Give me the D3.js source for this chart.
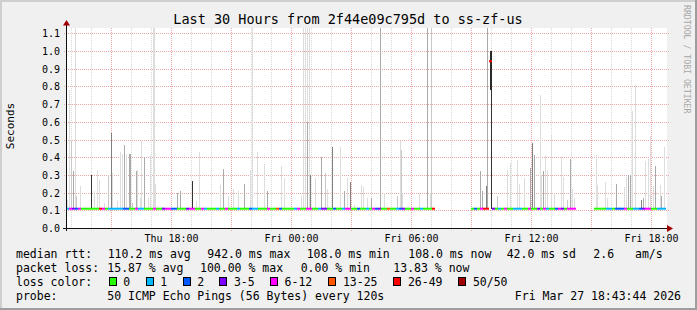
<!DOCTYPE html>
<html>
<head>
<meta charset="utf-8">
<script src="https://cdn.jsdelivr.net/npm/d3@7"></script>
<style>
  body { margin: 0; background: #f0f0f0; }
  svg text { font-family: "DejaVu Sans Mono", monospace; fill: #000; }
</style>
</head>
<body>
<script>
// graph window: last 30 hours up to the time stamp in the footer
const windowEnd = new Date(2026, 2, 27, 18, 43, 44);
const windowStart = new Date(windowEnd.getTime() - 30 * 3600 * 1000);

const yTicks = [0.0, 0.1, 0.2, 0.3, 0.4, 0.5, 0.6, 0.7, 0.8, 0.9, 1.0, 1.1];

// smoke: minutes after window start, top of the ping spread (s), shade 0 (light) .. 4 (dark)
const smokeMin = [5, 10, 16, 23, 28, 32, 42, 77, 84, 93, 99, 114, 127, 136, 139, 153, 164, 168, 175, 182,
  189, 194, 199, 210, 214, 222, 227, 234, 248, 252, 262, 265, 267, 288, 335, 342, 378, 392, 400, 462,
  472, 487, 502, 516, 534, 552, 559, 575, 594, 603, 647, 655, 707, 712, 719, 723, 729, 725, 732, 747,
  767, 779, 784, 799, 822, 835, 844, 852, 864, 887, 891, 904, 916, 943, 954, 995, 1003, 1005, 1009, 1060,
  1084, 1092, 1097, 1244, 1249, 1260, 1265, 1275, 1288, 1295, 1324, 1332, 1354, 1360, 1374, 1392, 1400, 1407, 1422, 1427,
  1432, 1439, 1444, 1457, 1465, 1487, 1492, 1504, 1512, 1520, 1525, 1590, 1594, 1619, 1624, 1650, 1660, 1674, 1680, 1687,
  1692, 1698, 1710, 1727, 1732, 1739, 1747, 1752, 1762, 1767, 1782, 1787, 1795];
const smokeTop = [0.16, 0.78, 0.49, 0.32, 1.2, 0.18, 0.235, 0.30, 0.21, 0.33, 0.27, 0.14, 0.30, 0.535, 0.31, 0.15, 0.43, 0.42, 0.47, 0.42,
  0.42, 0.42, 0.14, 0.32, 0.33, 0.17, 0.49, 0.40, 0.17, 0.41, 1.2, 1.2, 0.25, 0.12, 0.20, 0.21, 0.265, 0.15, 0.43, 0.245,
  0.335, 0.18, 0.22, 0.21, 0.25, 0.33, 1.2, 0.43, 0.36, 0.21, 0.35, 0.28, 0.18, 1.2, 1.2, 1.2, 1.2, 0.60, 0.30, 0.28,
  0.40, 0.31, 0.22, 0.46, 0.46, 0.21, 0.28, 0.26, 0.13, 0.245, 0.23, 0.17, 0.17, 1.2, 0.20, 0.18, 0.49, 0.44, 0.20, 0.20,
  1.2, 0.20, 1.2, 0.32, 0.21, 0.24, 1.2, 1.0, 0.12, 0.18, 0.33, 0.37, 0.385, 0.25, 0.28, 0.34, 0.48, 0.41, 0.75, 0.30,
  0.32, 0.41, 0.33, 0.53, 0.20, 0.40, 0.29, 0.16, 0.39, 0.22, 0.17, 0.41, 0.245, 0.26, 0.17, 0.25, 0.12, 0.23, 0.29, 0.30,
  0.30, 0.66, 0.81, 0.16, 0.17, 0.38, 0.39, 0.52, 0.24, 0.35, 0.245, 0.18, 0.46];
const smokeShade = [0, 0, 1, 2, 0, 1, 0, 4, 0, 0, 0, 0, 1, 3, 0, 0, 0, 0, 2, 0,
  2, 2, 1, 2, 0, 0, 0, 2, 0, 0, 0, 0, 0, 0, 2, 2, 4, 0, 0, 0,
  2, 0, 0, 0, 2, 0, 0, 0, 0, 2, 0, 0, 0, 0, 0, 0, 0, 2, 3, 0,
  2, 1, 0, 3, 0, 2, 0, 3, 0, 0, 0, 0, 2, 2, 0, 1, 0, 1, 0, 0,
  2, 0, 1, 2, 2, 3, 2, 4, 0, 1, 0, 0, 0, 0, 0, 2, 3, 2, 0, 0,
  2, 0, 0, 0, 0, 0, 0, 1, 2, 0, 0, 0, 0, 0, 0, 2, 0, 0, 0, 2,
  2, 0, 0, 3, 2, 0, 0, 0, 0, 2, 0, 2, 0];
const shadeColors = ['#dddddd', '#c8c8c8', '#aaaaaa', '#808080', '#333333'];

// dense ping spread around the big median peak
const peakMin = 1275;
const peakBand = [0.78, 1.0];

// loss class for each 9 minute step of the median line ('.' = no data)
const lossCodes =
  '14324000000640111112200411000400344220003440041000' +
  '10040001000211000400520000140044001330020014400200' +
  '10423005001230040010006............020466630104001' +
  '11004003041002430444......000011022240011234400111';
const lossStep = 9;

// median rtt (s): [from minute, to minute, value]
const medianRuns = [[0, 1269, 0.109], [1269, 1278, 0.942], [1278, 1800, 0.109]];

const lossLabels = ['0', '1', '2', '3-5', '6-12', '13-25', '26-49', '50/50'];
const lossColors = ['#26ff00', '#00b8ff', '#0059ff', '#7e00ff', '#ff00ff', '#ff5500', '#ff0000', '#a10000'];

const rttStats = [110.2, 942.0, 108.0, 108.0];
const rttNames = ['avg', 'max', 'min', 'now'];
const rttSd = 42.0;
const rttAm = 2.6;
const lossStats = [15.87, 100.00, 0.00, 13.83];
const lossNames = ['avg', 'max', 'min', 'now'];

const W = 697, H = 310;
const svg = d3.select('body').append('svg').attr('width', W).attr('height', H);

// frame
svg.append('rect').attr('width', W).attr('height', H).attr('fill', '#f0f0f0');
svg.append('rect').attr('x', 0).attr('y', 0).attr('width', W).attr('height', 2).attr('fill', '#cfcfcf');
svg.append('rect').attr('x', 0).attr('y', 0).attr('width', 2).attr('height', H).attr('fill', '#cfcfcf');
svg.append('rect').attr('x', 0).attr('y', H - 2).attr('width', W).attr('height', 2).attr('fill', '#9e9e9e');
svg.append('rect').attr('x', W - 2).attr('y', 0).attr('width', 2).attr('height', H).attr('fill', '#9e9e9e');

const x = d3.scaleTime().domain([windowStart, windowEnd]).range([66, 666]);
const y = d3.scaleLinear().domain([0, 1.13]).range([228, 28]);
const tAt = m => new Date(windowStart.getTime() + m * 60000);

svg.append('rect').attr('x', 67).attr('y', 28).attr('width', 600).attr('height', 200).attr('fill', '#fff');

svg.append('defs').append('clipPath').attr('id', 'plot')
  .append('rect').attr('x', 67).attr('y', 28).attr('width', 600).attr('height', 200);

// grid
const hours = d3.timeHour.range(windowStart, windowEnd);
const grid = svg.append('g');
grid.selectAll('line.v').data(hours).join('line')
  .attr('x1', d => Math.round(x(d)) + 0.5).attr('x2', d => Math.round(x(d)) + 0.5)
  .attr('y1', 28).attr('y2', 231)
  .attr('stroke', d => d.getHours() % 3 === 0 ? '#eea8a8' : '#d8d8d8')
  .attr('stroke-dasharray', '1,1');
grid.selectAll('line.h').data(yTicks.slice(1)).join('line')
  .attr('x1', 64).attr('x2', 669)
  .attr('y1', d => Math.round(y(d)) + 0.5).attr('y2', d => Math.round(y(d)) + 0.5)
  .attr('stroke', '#eea8a8')
  .attr('stroke-dasharray', '1,1');

// smoke
const base = y(medianRuns[0][2]);
const smoke = smokeMin.map((m, i) => ({ m, top: smokeTop[i], shade: smokeShade[i] }))
  .sort((a, b) => b.top - a.top);
const plot = svg.append('g').attr('clip-path', 'url(#plot)');
plot.selectAll('rect.smoke').data(smoke).join('rect')
  .attr('x', d => Math.floor(x(tAt(d.m))))
  .attr('width', 1)
  .attr('y', d => Math.round(y(d.top)))
  .attr('height', d => Math.max(0, Math.round(base) - Math.round(y(d.top))))
  .attr('fill', d => shadeColors[d.shade]);
plot.append('rect')
  .attr('x', Math.floor(x(tAt(peakMin))) - 1).attr('width', 2)
  .attr('y', y(peakBand[1])).attr('height', y(peakBand[0]) - y(peakBand[1]))
  .attr('fill', '#2a2a2a');

// median line coloured by loss
const medianAt = m => medianRuns.find(r => m >= r[0] && m < r[1])[2];
const steps = lossCodes.split('').map((c, i) => ({ c, i })).filter(d => d.c !== '.');
plot.selectAll('rect.med').data(steps).join('rect')
  .attr('x', d => Math.round(x(tAt(d.i * lossStep))))
  .attr('width', d => Math.round(x(tAt((d.i + 1) * lossStep))) - Math.round(x(tAt(d.i * lossStep))))
  .attr('y', d => y(medianAt(d.i * lossStep)) - 1)
  .attr('height', 2)
  .attr('fill', d => lossColors[+d.c]);

// axes
svg.append('line').attr('x1', 63).attr('x2', 668).attr('y1', 228.5).attr('y2', 228.5).attr('stroke', '#101010');
svg.append('line').attr('x1', 66.5).attr('x2', 66.5).attr('y1', 231).attr('y2', 25).attr('stroke', '#101010');
svg.append('path').attr('d', 'M667,225L667,232L673,228.5Z').attr('fill', '#a00000');
svg.append('path').attr('d', 'M63,25.5L70,25.5L66.5,20Z').attr('fill', '#a00000');

// tick labels
svg.selectAll('text.yl').data(yTicks).join('text')
  .attr('x', 60).attr('y', d => Math.round(y(d)) + 4)
  .attr('text-anchor', 'end').attr('font-size', '10px')
  .text(d => d.toFixed(1));
const fmt = d3.timeFormat('%a %H:%M');
svg.selectAll('text.xl').data(hours.filter(h => h.getHours() % 6 === 0)).join('text')
  .attr('x', d => Math.round(x(d)) + 0.5).attr('y', 241.5)
  .attr('text-anchor', 'middle').attr('font-size', '10px')
  .text(fmt);

// titles
svg.append('text').attr('x', 348).attr('y', 24).attr('text-anchor', 'middle')
  .attr('font-size', '13.5px').text('Last 30 Hours from 2f44e09c795d to ss-zf-us');
svg.append('text').attr('transform', 'translate(14,126) rotate(-90)').attr('text-anchor', 'middle')
  .attr('font-size', '11px').text('Seconds');
svg.append('text').attr('transform', 'translate(684,5) rotate(90)')
  .attr('font-size', '8.2px').style('fill', '#a8a8a8').text('RRDTOOL / TOBI OETIKER');

// legend
const lg = svg.append('g').attr('font-size', '11.5px');
const put = (tx, ty, s) => lg.append('text').attr('x', tx).attr('y', ty).attr('xml:space', 'preserve').text(s);
put(16, 258, 'median rtt:');
[107.7, 207.3, 306.7, 408.3].forEach((px, i) => put(px, 258, rttStats[i].toFixed(1) + ' ms ' + rttNames[i]));
put(506.7, 258, rttSd.toFixed(1) + ' ms sd');
put(593.3, 258, rttAm.toFixed(1));
put(635, 258, 'am/s');
put(16, 272, 'packet loss:');
[107.3, 200, 300.7, 393.3].forEach((px, i) => put(px, 272, lossStats[i].toFixed(2) + ' % ' + lossNames[i]));
put(16, 286, 'loss color:');
const boxX = [108.7, 145.7, 182.7, 219.3, 270, 328.3, 393.3, 458.3];
lossLabels.forEach((l, i) => {
  lg.append('rect').attr('x', Math.round(boxX[i]) + 0.5).attr('y', 277.5).attr('width', 7).attr('height', 8)
    .attr('fill', lossColors[i]).attr('stroke', '#000');
  put(boxX[i] + 14.6, 286, l);
});
put(16, 300, 'probe:');
put(107.3, 300, '50 ICMP Echo Pings (56 Bytes) every 120s');
put(681, 300, 'Fri Mar 27 18:43:44 2026').attr('text-anchor', 'end');
</script>
</body>
</html>
